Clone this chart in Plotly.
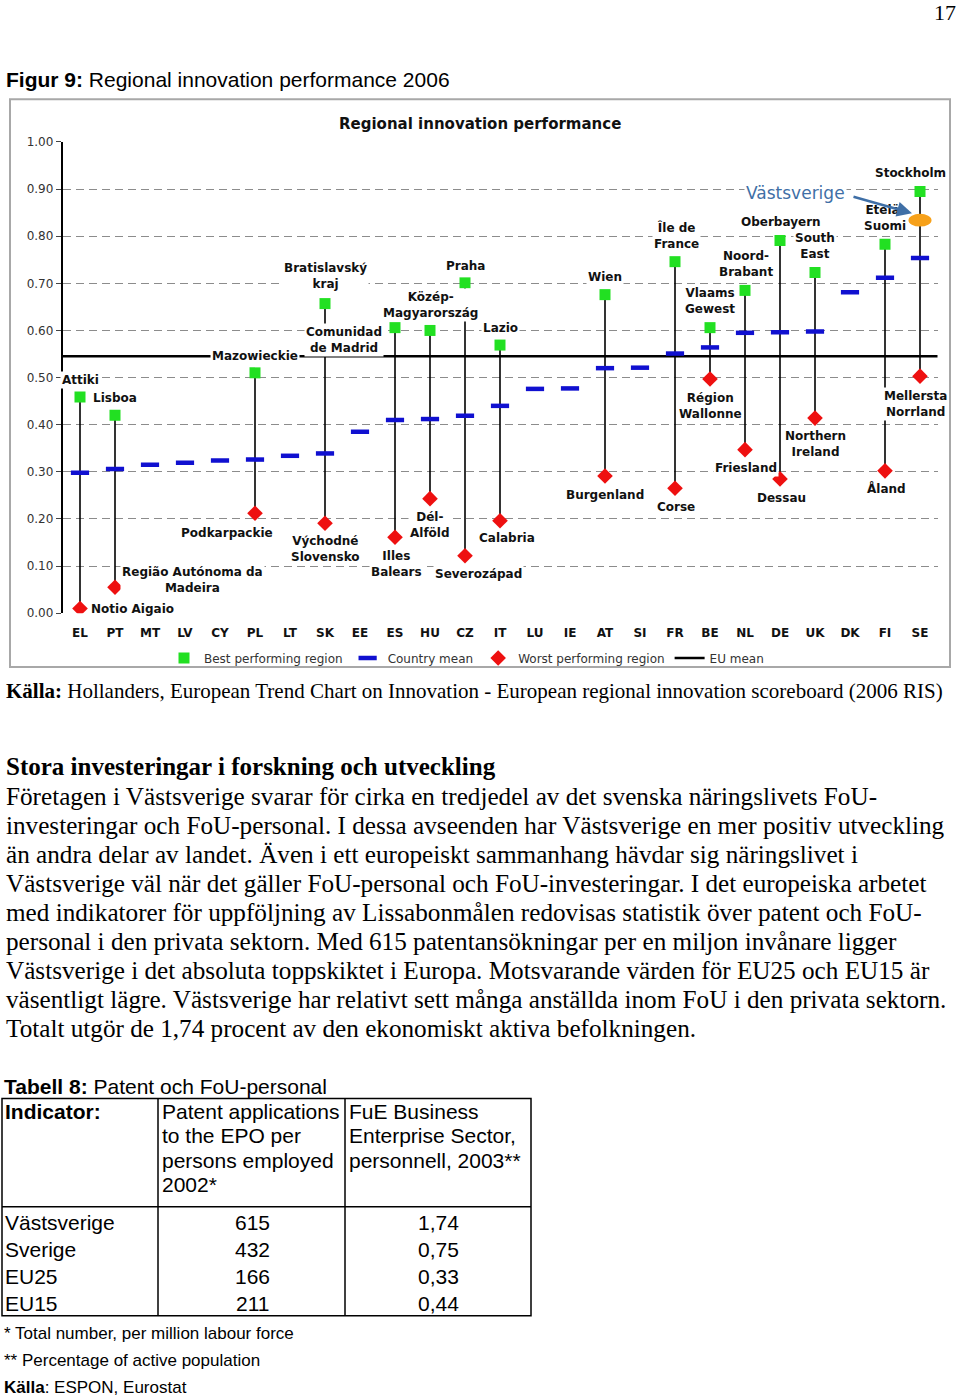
import plotly.graph_objects as go

W, H = 960, 1397
# the captured page is squeezed slightly in height (about 0.9887) and starts ~7.9 px down;
# page positions below are given as seen in the reference and mapped through this.
V_SCALE, V_OFF = 0.9887, 7.9


def PX(x):
    return x / W


def PY(y):
    return 1 - ((y - V_OFF) / V_SCALE) / H


# ---------------- data ----------------
countries = ["EL", "PT", "MT", "LV", "CY", "PL", "LT", "SK", "EE", "ES", "HU", "CZ", "IT",
             "LU", "IE", "AT", "SI", "FR", "BE", "NL", "DE", "UK", "DK", "FI", "SE"]
country_mean = [0.298, 0.306, 0.315, 0.319, 0.324, 0.326, 0.334, 0.339, 0.385, 0.410, 0.412, 0.419, 0.440,
                0.476, 0.477, 0.520, 0.521, 0.551, 0.564, 0.595, 0.596, 0.598, 0.681, 0.712, 0.754]
best_value = [0.459, 0.420, None, None, None, 0.510, None, 0.657, None, 0.606, 0.600, 0.701, 0.569,
              None, None, 0.676, None, 0.746, 0.606, 0.685, 0.791, 0.723, None, 0.783, 0.895]
best_region = ["Attiki", "Lisboa", None, None, None, "Mazowieckie", None, "Bratislavský kraj", None,
               "Comunidad de Madrid", "Közép-Magyarország", "Praha", "Lazio", None, None, "Wien", None,
               "Île de France", "Vlaams Gewest", "Noord-Brabant", "Oberbayern", "South East", None,
               "Etelä-Suomi", "Stockholm"]
worst_value = [0.010, 0.055, None, None, None, 0.212, None, 0.191, None, 0.161, 0.243, 0.122, 0.196,
               None, None, 0.291, None, 0.265, 0.497, 0.347, 0.285, 0.414, None, 0.302, 0.503]
worst_region = ["Notio Aigaio", "Região Autónoma da Madeira", None, None, None, "Podkarpackie", None,
                "Východné Slovensko", None, "Illes Balears", "Dél-Alföld", "Severozápad", "Calabria",
                None, None, "Burgenland", None, "Corse", "Région Wallonne", "Friesland", "Dessau",
                "Northern Ireland", None, "Åland", "Mellersta Norrland"]
eu_mean = 0.545
vast_country = "SE"
vast_value = 0.834
y_ticks = [0.0, 0.1, 0.2, 0.3, 0.4, 0.5, 0.6, 0.7, 0.8, 0.9, 1.0]

# region label placement (page pixels: centre x, centre y)
region_labels = [
    ("Attiki", 80, 380), ("Lisboa", 115, 398), ("Mazowieckie", 255, 356),
    ("Bratislavský<br>kraj", 325, 277), ("Comunidad<br>de Madrid", 344, 340),
    ("Praha", 465, 267), ("Közép-<br>Magyarország", 430, 306), ("Lazio", 500, 328),
    ("Wien", 605, 278), ("Île de<br>France", 676, 236), ("Vlaams<br>Gewest", 710, 302),
    ("Noord-<br>Brabant", 746, 265), ("Oberbayern", 781, 223), ("South<br>East", 815, 247),
    ("Etelä-<br>Suomi", 885, 219), ("Stockholm", 910, 174),
    ("Région<br>Wallonne", 710, 406), ("Mellersta<br>Norrland", 915, 404),
    ("Northern<br>Ireland", 815, 444), ("Friesland", 746, 468), ("Dessau", 781, 498),
    ("Åland", 886, 489), ("Corse", 676, 507), ("Burgenland", 605, 495),
    ("Calabria", 507, 538), ("Severozápad", 478, 574), ("Dél-<br>Alföld", 430, 525),
    ("Illes<br>Balears", 396, 564), ("Východné<br>Slovensko", 325, 549),
    ("Podkarpackie", 227, 533), ("Região Autónoma da<br>Madeira", 192, 580),
    ("Notio Aigaio", 132, 609),
]

body_lines = [
    "Företagen i Västsverige svarar för cirka en tredjedel av det svenska näringslivets FoU-",
    "investeringar och FoU-personal. I dessa avseenden har Västsverige en mer positiv utveckling",
    "än andra delar av landet. Även i ett europeiskt sammanhang hävdar sig näringslivet i",
    "Västsverige väl när det gäller FoU-personal och FoU-investeringar. I det europeiska arbetet",
    "med indikatorer för uppföljning av Lissabonmålen redovisas statistik över patent och FoU-",
    "personal i den privata sektorn. Med 615 patentansökningar per en miljon invånare ligger",
    "Västsverige i det absoluta toppskiktet i Europa. Motsvarande värden för EU25 och EU15 är",
    "väsentligt lägre. Västsverige har relativt sett många anställda inom FoU i den privata sektorn.",
    "Totalt utgör de 1,74 procent av den ekonomiskt aktiva befolkningen.",
]

table_rows = ["Västsverige", "Sverige", "EU25", "EU15"]
table_patents = ["615", "432", "166", "211"]
table_personnel = ["1,74", "0,75", "0,33", "0,44"]
col2_header = ["Patent applications", "to the EPO per", "persons employed", "2002*"]
col3_header = ["FuE Business", "Enterprise Sector,", "personnell, 2003**"]

# ---------------- styles ----------------
GREEN = "#22e022"
BLUE = "#1010d0"
RED = "#ee1010"
ORANGE = "#f7a11a"
ARROW = "#3f6fa6"
CHART_FONT = "DejaVu Sans, Verdana, sans-serif"
SERIF = "Liberation Serif, Times New Roman, serif"
SANS = "Liberation Sans, Arial, sans-serif"

x_idx = list(range(len(countries)))

fig = go.Figure()

# connectors between worst and best regions
cx, cy = [], []
for i, (b, w) in enumerate(zip(best_value, worst_value)):
    if b is not None and w is not None:
        cx += [i, i, None]
        cy += [w, b, None]
fig.add_trace(go.Scatter(x=cx, y=cy, mode="lines", line=dict(color="black", width=1.6),
                         showlegend=False, hoverinfo="skip"))

bi = [i for i, v in enumerate(best_value) if v is not None]
fig.add_trace(go.Scatter(x=bi, y=[best_value[i] for i in bi], text=[best_region[i] for i in bi],
                         mode="markers", name="Best performing region",
                         marker=dict(symbol="square", size=11, color=GREEN)))
fig.add_trace(go.Scatter(x=x_idx, y=country_mean, mode="markers", name="Country mean",
                         marker=dict(symbol="line-ew", size=13, color=BLUE,
                                     line=dict(color=BLUE, width=4.5))))
wi = [i for i, v in enumerate(worst_value) if v is not None]
fig.add_trace(go.Scatter(x=wi, y=[worst_value[i] for i in wi], text=[worst_region[i] for i in wi],
                         mode="markers", name="Worst performing region",
                         marker=dict(symbol="diamond", size=12, color=RED)))
# legend entry for the EU mean line (line itself drawn as a shape spanning the axis)
fig.add_trace(go.Scatter(x=[None], y=[None], mode="lines", name="EU mean",
                         line=dict(color="black", width=2.5)))

shapes = []
# EU mean line
shapes.append(dict(type="line", xref="x domain", yref="y", x0=0, x1=1, y0=eu_mean, y1=eu_mean,
                   line=dict(color="black", width=2.5), layer="below"))
# Västsverige ellipse
si = countries.index(vast_country)
shapes.append(dict(type="circle", xref="x", yref="y", x0=si - 0.33, x1=si + 0.33,
                   y0=vast_value - 0.0135, y1=vast_value + 0.0135,
                   fillcolor=ORANGE, line=dict(width=0)))
# chart frame
shapes.append(dict(type="rect", xref="paper", yref="paper", x0=PX(10), x1=PX(950), y0=PY(667), y1=PY(100),
                   line=dict(color="#a8a8a8", width=2)))
# table rules
tbl_line = dict(color="black", width=1.5)
shapes.append(dict(type="rect", xref="paper", yref="paper", x0=PX(2), x1=PX(531), y0=PY(1315), y1=PY(1098),
                   line=tbl_line))
for xv in (158, 345):
    shapes.append(dict(type="line", xref="paper", yref="paper", x0=PX(xv), x1=PX(xv),
                       y0=PY(1315), y1=PY(1098), line=tbl_line))
shapes.append(dict(type="line", xref="paper", yref="paper", x0=PX(2), x1=PX(531), y0=PY(1206), y1=PY(1206),
                   line=tbl_line))

ann = []


def text(t, x, y, size, family, color="black", xanchor="left", bg=None, align="left"):
    d = dict(text=t, x=PX(x), y=PY(y), xref="paper", yref="paper", showarrow=False,
             xanchor=xanchor, yanchor="middle", align=align,
             font=dict(size=size, family=family, color=color))
    if bg:
        d["bgcolor"] = bg
        d["borderpad"] = 1
    ann.append(d)


# chart title
text("<b>Regional innovation performance</b>", 480, 125, 15, CHART_FONT, "#111", "center")

# region labels
for t, x, y in region_labels:
    text("<b>" + t + "</b>", x, y, 12, CHART_FONT, "#111", "center", bg="white", align="center")

# Västsverige callout
text("Västsverige", 795, 194, 17, CHART_FONT, ARROW, "center", bg="white")
ann.append(dict(x=PX(912), y=PY(214), xref="paper", yref="paper", text="", showarrow=True,
                ax=-60, ay=-17, arrowhead=2, arrowsize=1.2, arrowwidth=2.5, arrowcolor=ARROW,
                standoff=0))

# page texts
text("17", 958, 13, 22, SERIF, "black", "right")
text("<b>Figur 9:</b> Regional innovation performance 2006", 4, 80, 21, SANS)
text("<b>Källa:</b> Hollanders, European Trend Chart on Innovation - European regional innovation "
     "scoreboard (2006 RIS)", 4, 691, 21, SERIF)
text("<b>Stora investeringar i forskning och utveckling</b>", 4, 766, 25, SERIF)
for k, line in enumerate(body_lines):
    text(line, 4, 796 + 29 * k, 25.2, SERIF)

# table
text("<b>Tabell 8:</b> Patent och FoU-personal", 2, 1086, 21, SANS)
text("<b>Indicator:</b>", 3, 1111, 21, SANS)
for k, line in enumerate(col2_header):
    text(line, 160, 1111 + 24.4 * k, 21, SANS)
for k, line in enumerate(col3_header):
    text(line, 347, 1111 + 24.4 * k, 21, SANS)
for k, (r, p, q) in enumerate(zip(table_rows, table_patents, table_personnel)):
    yy = 1222 + 27 * k
    text(r, 3, yy, 21, SANS)
    text(p, 252, yy, 21, SANS, "black", "center")
    text(q, 438, yy, 21, SANS, "black", "center")

text("* Total number, per million labour force", 2, 1333, 17, SANS)
text("** Percentage of active population", 2, 1360, 17, SANS)
text("<b>Källa</b>: ESPON, Eurostat", 2, 1387, 17, SANS)

fig.update_layout(
    width=W, height=H,
    margin=dict(l=0, r=0, t=0, b=0),
    paper_bgcolor="white", plot_bgcolor="white",
    annotations=ann,
    shapes=shapes,
    showlegend=True,
    legend=dict(orientation="h", x=PX(164), y=PY(658), xanchor="left", yanchor="middle",
                font=dict(family=CHART_FONT, size=12, color="#333"), bgcolor="rgba(0,0,0,0)",
                itemwidth=30, tracegroupgap=0),
    xaxis=dict(domain=[PX(62.5), PX(937.5)], range=[-0.5, 24.5], tickmode="array",
               tickvals=x_idx, ticktext=countries, showgrid=False, zeroline=False, showline=False,
               ticks="outside", ticklen=8, tickcolor="rgba(0,0,0,0)",
               tickfont=dict(family=CHART_FONT, size=12, color="#111", weight="bold")),
    yaxis=dict(domain=[PY(613.3), PY(142.7)], range=[0, 1], tickmode="array", tickvals=y_ticks,
               tickformat=".2f", showgrid=True, gridcolor="#8c8c8c", griddash="8px,5px", gridwidth=1.2,
               zeroline=False, showline=True, linecolor="black", linewidth=1.5,
               ticks="outside", ticklen=5, tickcolor="#444",
               tickfont=dict(family=CHART_FONT, size=12, color="#333")),
)

post = ("document.documentElement.style.margin='0';document.body.style.margin='0';"
        "document.documentElement.style.overflow='hidden';document.body.style.overflow='hidden';"
        "var gd=document.getElementById('{plot_id}');"
        "gd.style.position='fixed';gd.style.left='0px';gd.style.top='0px';")

fig.write_html("out.html", config={"displayModeBar": False, "responsive": False}, post_script=post)
